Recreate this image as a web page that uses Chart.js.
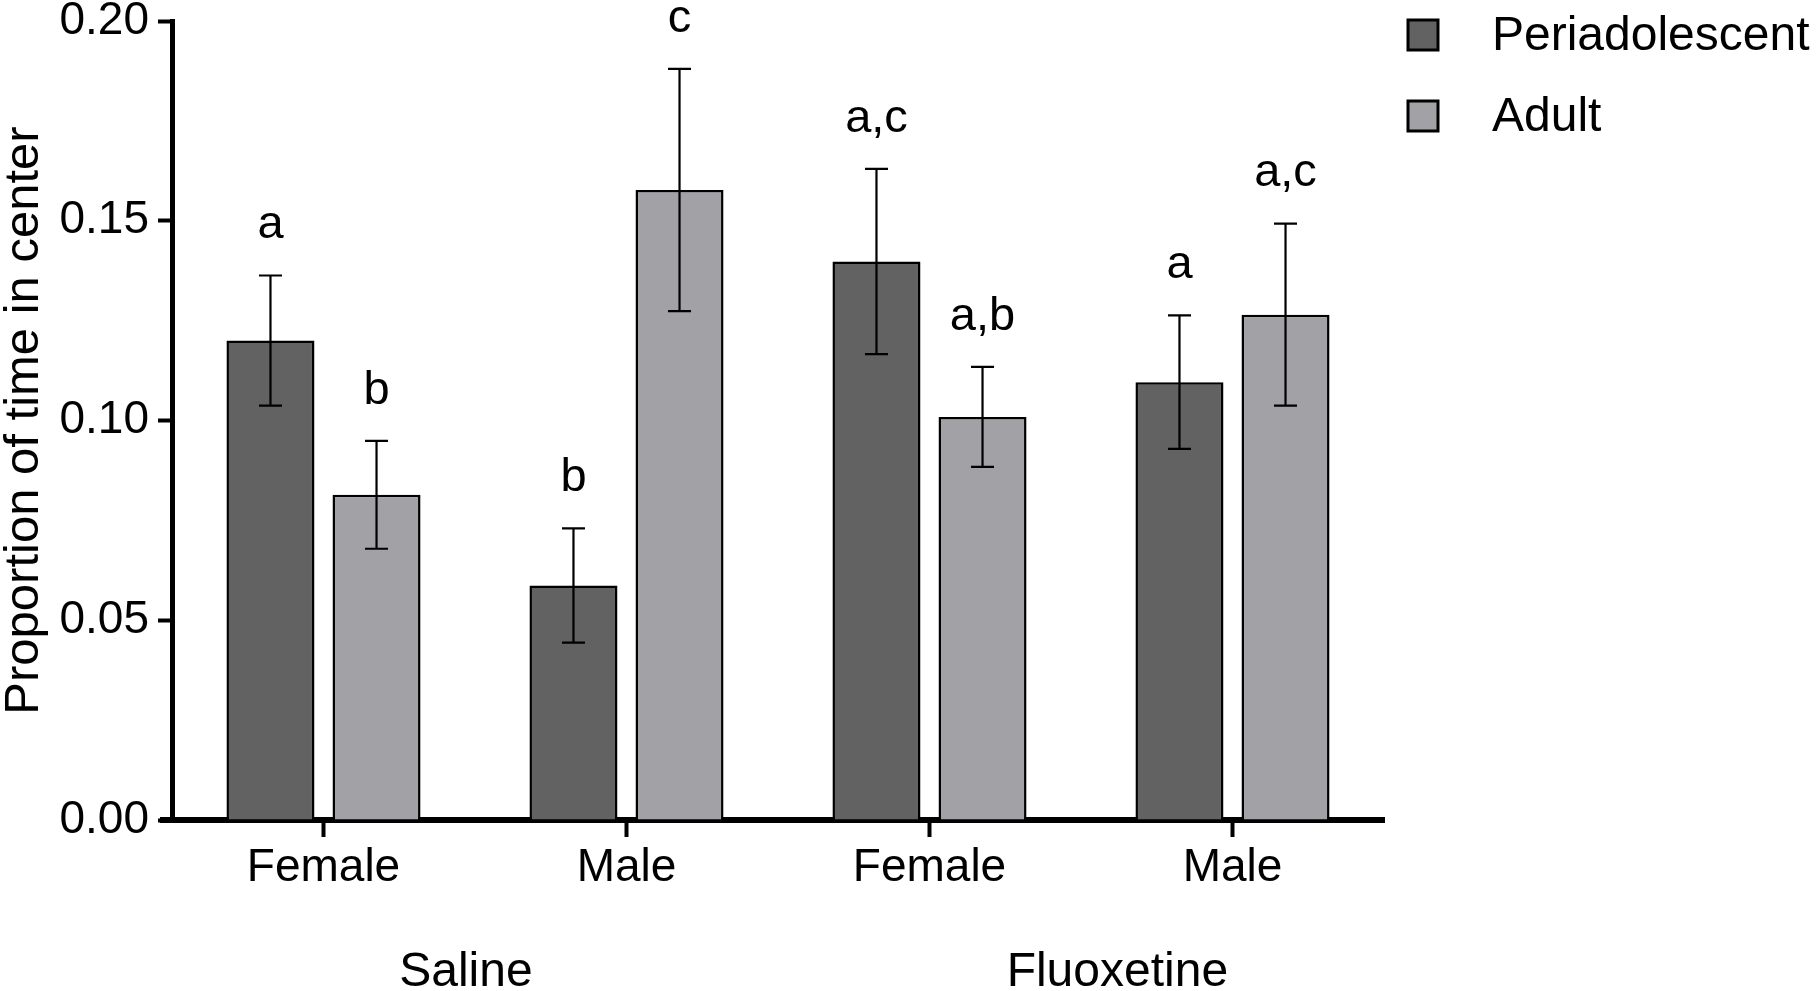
<!DOCTYPE html>
<html>
<head>
<meta charset="utf-8">
<script src="https://cdn.jsdelivr.net/npm/chart.js@4.4.1/dist/chart.umd.min.js"></script>
<style>
  html, body { margin: 0; padding: 0; background: #fff; }
  #wrap { width: 1818px; height: 991px; }
</style>
</head>
<body>
<div id="wrap"><canvas id="chart" width="1818" height="991"></canvas></div>
<script>
const categories = ['Female', 'Male', 'Female', 'Male'];
const groupLabels = ['Saline', 'Fluoxetine'];
const groupPositions = [0.47, 2.62];
const yTicks = [0, 0.05, 0.10, 0.15, 0.20];

const periMean = [0.120, 0.0587, 0.1398, 0.1096];
const periErr = [0.0163, 0.0143, 0.0232, 0.0167];
const periLetters = ['a', 'b', 'a,c', 'a'];

const adultMean = [0.0814, 0.1577, 0.1009, 0.1265];
const adultErr = [0.0135, 0.0303, 0.0125, 0.0228];
const adultLetters = ['b', 'c', 'a,b', 'a,c'];

const FONT = '"Liberation Sans", Arial, Helvetica, sans-serif';

const errorBars = {
  id: 'errorBars',
  afterDatasetsDraw(chart) {
    const ctx = chart.ctx;
    const y = chart.scales.y;
    ctx.save();
    chart.data.datasets.forEach((ds, di) => {
      const meta = chart.getDatasetMeta(di);
      meta.data.forEach((bar, i) => {
        const hi = y.getPixelForValue(ds.data[i] + ds.err[i]);
        const lo = y.getPixelForValue(ds.data[i] - ds.err[i]);
        ctx.strokeStyle = '#000';
        ctx.lineWidth = 2.2;
        ctx.beginPath();
        ctx.moveTo(bar.x, hi); ctx.lineTo(bar.x, lo);
        ctx.moveTo(bar.x - 11.5, hi); ctx.lineTo(bar.x + 11.5, hi);
        ctx.moveTo(bar.x - 11.5, lo); ctx.lineTo(bar.x + 11.5, lo);
        ctx.stroke();
        ctx.fillStyle = '#000';
        ctx.font = '47px ' + FONT;
        ctx.textAlign = 'center';
        ctx.textBaseline = 'middle';
        ctx.fillText(ds.letters[i], bar.x, hi - 50);
      });
    });
    ctx.restore();
  },
  afterDraw(chart) {
    const ctx = chart.ctx;
    const x = chart.scales.x;
    const area = chart.chartArea;
    ctx.save();
    // x axis line runs a little past the y axis
    ctx.strokeStyle = '#000';
    ctx.lineWidth = 6;
    ctx.beginPath();
    ctx.moveTo(area.left - 12, area.bottom);
    ctx.lineTo(area.left, area.bottom);
    ctx.stroke();

    ctx.fillStyle = '#000';
    ctx.font = '48px ' + FONT;
    ctx.textAlign = 'center';
    ctx.textBaseline = 'middle';
    groupLabels.forEach((g, i) => {
      ctx.fillText(g, x.getPixelForValue(groupPositions[i]), 973);
    });

    // legend
    chart.data.datasets.forEach((ds, i) => {
      const cy = 35 + i * 81;
      ctx.fillStyle = ds.backgroundColor;
      ctx.fillRect(1408, cy - 15, 30, 30);
      ctx.strokeStyle = '#000';
      ctx.lineWidth = 3;
      ctx.strokeRect(1408, cy - 15, 30, 30);
      ctx.fillStyle = '#000';
      ctx.font = '48px ' + FONT;
      ctx.textAlign = 'left';
      ctx.textBaseline = 'middle';
      ctx.fillText(ds.label, 1492, cy + 2);
    });
    ctx.restore();
  }
};

new Chart(document.getElementById('chart'), {
  type: 'bar',
  data: {
    labels: categories,
    datasets: [
      { label: 'Periadolescent', data: periMean, err: periErr, letters: periLetters,
        backgroundColor: '#626262', borderColor: '#000', borderWidth: 2.5 },
      { label: 'Adult', data: adultMean, err: adultErr, letters: adultLetters,
        backgroundColor: '#a2a2a6', borderColor: '#000', borderWidth: 2.5 }
    ]
  },
  options: {
    responsive: false,
    animation: false,
    devicePixelRatio: 1,
    categoryPercentage: 0.70,
    barPercentage: 0.83,
    layout: { padding: { left: 0, top: 21, right: 434, bottom: 0 } },
    plugins: { legend: { display: false }, tooltip: { enabled: false } },
    scales: {
      x: {
        grid: { display: true, offset: false, drawOnChartArea: false, tickLength: 17, tickWidth: 4, tickColor: '#000' },
        border: { display: true, color: '#000', width: 6 },
        ticks: { color: '#000', font: { family: FONT, size: 46 }, padding: 4 },
        afterFit(scale) { scale.height = 171; scale.paddingLeft = 0; scale.paddingRight = 0; }
      },
      y: {
        min: 0,
        max: 0.2,
        afterBuildTicks(scale) { scale.ticks = yTicks.map(v => ({ value: v })); },
        grid: { display: true, drawOnChartArea: false, tickLength: 14, tickWidth: 4, tickColor: '#000' },
        border: { display: true, color: '#000', width: 5 },
        ticks: { color: '#000', font: { family: FONT, size: 46 }, padding: 9,
          callback: v => Number(v).toFixed(2) },
        title: { display: true, text: 'Proportion of time in center', color: '#000',
          font: { family: FONT, size: 49, lineHeight: 1 }, padding: 0 },
        afterFit(scale) { scale.width = 172; scale.paddingTop = 0; scale.paddingBottom = 0; }
      }
    }
  },
  plugins: [errorBars]
});
</script>
</body>
</html>
